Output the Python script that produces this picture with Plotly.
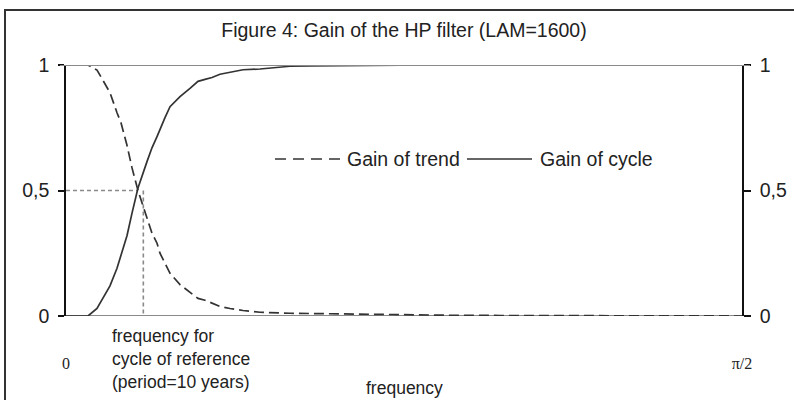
import math
import plotly.graph_objects as go

# ---------------- data ----------------
freq = [0.0, 0.0511, 0.0720, 0.0790, 0.0953, 0.1022, 0.1185, 0.1278, 0.1417,
        0.1534, 0.1673, 0.1882, 0.1998, 0.2115, 0.2184, 0.2300, 0.2417, 0.2649,
        0.2881, 0.3067, 0.3230, 0.3393, 0.3578, 0.3811, 0.4113, 0.4508, 0.4856,
        0.5205, 0.5670, 0.6134, 0.6832, 0.7761, 0.8923, 1.0085, 1.1247, 1.2408,
        1.3570, 1.4732, 1.5708]
gain_trend = [1.0, 1.0, 0.98, 0.96, 0.91, 0.89, 0.81, 0.77, 0.68,
              0.59, 0.50, 0.39, 0.33, 0.29, 0.25, 0.21, 0.17, 0.125,
              0.094, 0.07, 0.063, 0.05, 0.038, 0.03, 0.022, 0.015, 0.012,
              0.011, 0.01, 0.009, 0.006, 0.004, 0.003, 0.002, 0.002, 0.001,
              0.001, 0.001, 0.0]
gain_cycle = [0.0, 0.0, 0.03, 0.05, 0.095, 0.12, 0.19, 0.24, 0.32,
              0.41, 0.51, 0.615, 0.67, 0.715, 0.745, 0.79, 0.834, 0.874,
              0.907, 0.935, 0.943, 0.95, 0.963, 0.971, 0.981, 0.984, 0.99,
              0.995, 0.996, 0.997, 0.998, 0.999, 1.0, 1.0, 1.0, 1.0,
              1.0, 1.0, 1.0]

crossing_freq = 0.1666      # where the horizontal dotted line ends
reference_freq = 0.1797     # vertical dotted line (period = 10 years)
half_gain = 0.5

x_tick_vals = [0.0, math.pi / 2]
x_tick_text = ["0", "π/2"]
y_tick_vals = [0.0, 0.5, 1.0]
y_tick_text = ["0", "0,5", "1"]

title_text = "Figure 4: Gain of the HP filter (LAM=1600)"
series_names = ["Gain of trend", "Gain of cycle"]
ref_note = "frequency for<br>cycle of reference<br>(period=10 years)"
x_title = "frequency"

# ---------------- layout helpers (pixel -> paper) ----------------
W, H = 794, 400
L, R, T, B = 66, 742, 65, 316
def px(x):
    return (x - L) / (R - L)
def py(y):
    return (B - y) / (B - T)

LINE = "#333333"
GRAY = "#8a8a8a"
FONT = "Liberation Sans, Arial, sans-serif"

fig = go.Figure()

# reference dotted lines
fig.add_trace(go.Scatter(x=[0, crossing_freq], y=[half_gain, half_gain], mode="lines",
                         line=dict(color=GRAY, width=1.6, dash="4px,3px"),
                         showlegend=False, hoverinfo="skip"))
fig.add_trace(go.Scatter(x=[reference_freq, reference_freq], y=[half_gain, 0], mode="lines",
                         line=dict(color=GRAY, width=1.6, dash="4px,3px"),
                         showlegend=False, hoverinfo="skip"))

fig.add_trace(go.Scatter(x=freq, y=gain_cycle, mode="lines", name=series_names[1],
                         line=dict(color=LINE, width=1.7), showlegend=False))
fig.add_trace(go.Scatter(x=freq, y=gain_trend, mode="lines", name=series_names[0],
                         line=dict(color=LINE, width=1.7, dash="10px,5px"), showlegend=False))

shapes = []
# outer frame (left and top edges; the others are outside the picture)
shapes.append(dict(type="line", xref="paper", yref="paper",
                   x0=px(5), x1=px(5), y0=py(400), y1=py(10),
                   line=dict(color="#333333", width=2), layer="above"))
shapes.append(dict(type="line", xref="paper", yref="paper",
                   x0=px(4), x1=px(794), y0=py(10), y1=py(10),
                   line=dict(color="#333333", width=2), layer="above"))
# baseline at 0 (below traces) and line at 1 (above traces)
shapes.append(dict(type="line", xref="paper", yref="y", x0=px(60), x1=px(750), y0=0, y1=0,
                   line=dict(color=GRAY, width=1.8), layer="below"))
shapes.append(dict(type="line", xref="paper", yref="y", x0=px(60), x1=px(750), y0=1, y1=1,
                   line=dict(color=GRAY, width=2), layer="above"))
# manual legend samples
leg_y = py(159)
shapes.append(dict(type="line", xref="paper", yref="paper", x0=px(275), x1=px(341),
                   y0=leg_y, y1=leg_y, line=dict(color=LINE, width=1.6, dash="11px,7px")))
shapes.append(dict(type="line", xref="paper", yref="paper", x0=px(467), x1=px(532),
                   y0=leg_y, y1=leg_y, line=dict(color=LINE, width=1.6)))

annotations = [
    dict(text=series_names[0], xref="paper", yref="paper", x=px(345), y=leg_y,
         xanchor="left", yanchor="middle", showarrow=False,
         font=dict(family=FONT, size=19.5, color="#222")),
    dict(text=series_names[1], xref="paper", yref="paper", x=px(538), y=leg_y,
         xanchor="left", yanchor="middle", showarrow=False,
         font=dict(family=FONT, size=19.5, color="#222")),
    dict(text=ref_note, xref="paper", yref="paper", x=px(110), y=py(359),
         xanchor="left", yanchor="middle", align="left", showarrow=False,
         font=dict(family=FONT, size=17.5, color="#222")),
    dict(text=x_title, xref="paper", yref="paper", x=0.5, y=py(388),
         xanchor="center", yanchor="middle", showarrow=False,
         font=dict(family=FONT, size=17.5, color="#222")),
]

fig.update_layout(
    width=W, height=H,
    margin=dict(l=L, r=W - R, t=T, b=H - B, autoexpand=False),
    paper_bgcolor="white", plot_bgcolor="white",
    title=dict(text=title_text, x=0.5, xref="paper", y=1 - 30 / H, yref="container",
               yanchor="middle", xanchor="center",
               font=dict(family=FONT, size=19.5, color="#222")),
    shapes=shapes, annotations=annotations, showlegend=False,
    xaxis=dict(range=[0, math.pi / 2], showgrid=False, zeroline=False, showline=False,
               automargin=False,
               tickvals=x_tick_vals, ticktext=x_tick_text, ticks="",
               tickfont=dict(family="Liberation Serif, Times New Roman, serif", size=16, color="#222"),
               ticklabelstandoff=36),
    yaxis=dict(range=[0, 1], showgrid=False, zeroline=False, showline=True, automargin=False,
               linecolor="#111", linewidth=1.5, ticks="outside", ticklen=6,
               tickcolor="#111", tickwidth=1.5,
               tickvals=y_tick_vals, ticktext=y_tick_text,
               tickfont=dict(family=FONT, size=19.5, color="#222"), ticklabelstandoff=5),
    yaxis2=dict(range=[0, 1], overlaying="y", side="right", showgrid=False, zeroline=False,
                showline=True, automargin=False, linecolor="#111", linewidth=1.5,
                ticks="outside", ticklen=7, tickcolor="#111", tickwidth=1.5,
                tickvals=y_tick_vals, ticktext=y_tick_text,
                tickfont=dict(family=FONT, size=19.5, color="#222"), ticklabelstandoff=5),
)
# invisible trace to activate the right axis
fig.add_trace(go.Scatter(x=[0], y=[0], yaxis="y2", mode="markers",
                         marker=dict(opacity=0), showlegend=False, hoverinfo="skip"))

fig.write_html("out.html", config={"displayModeBar": False},
               post_script="document.body.style.margin='0';document.body.style.overflow='hidden';")
